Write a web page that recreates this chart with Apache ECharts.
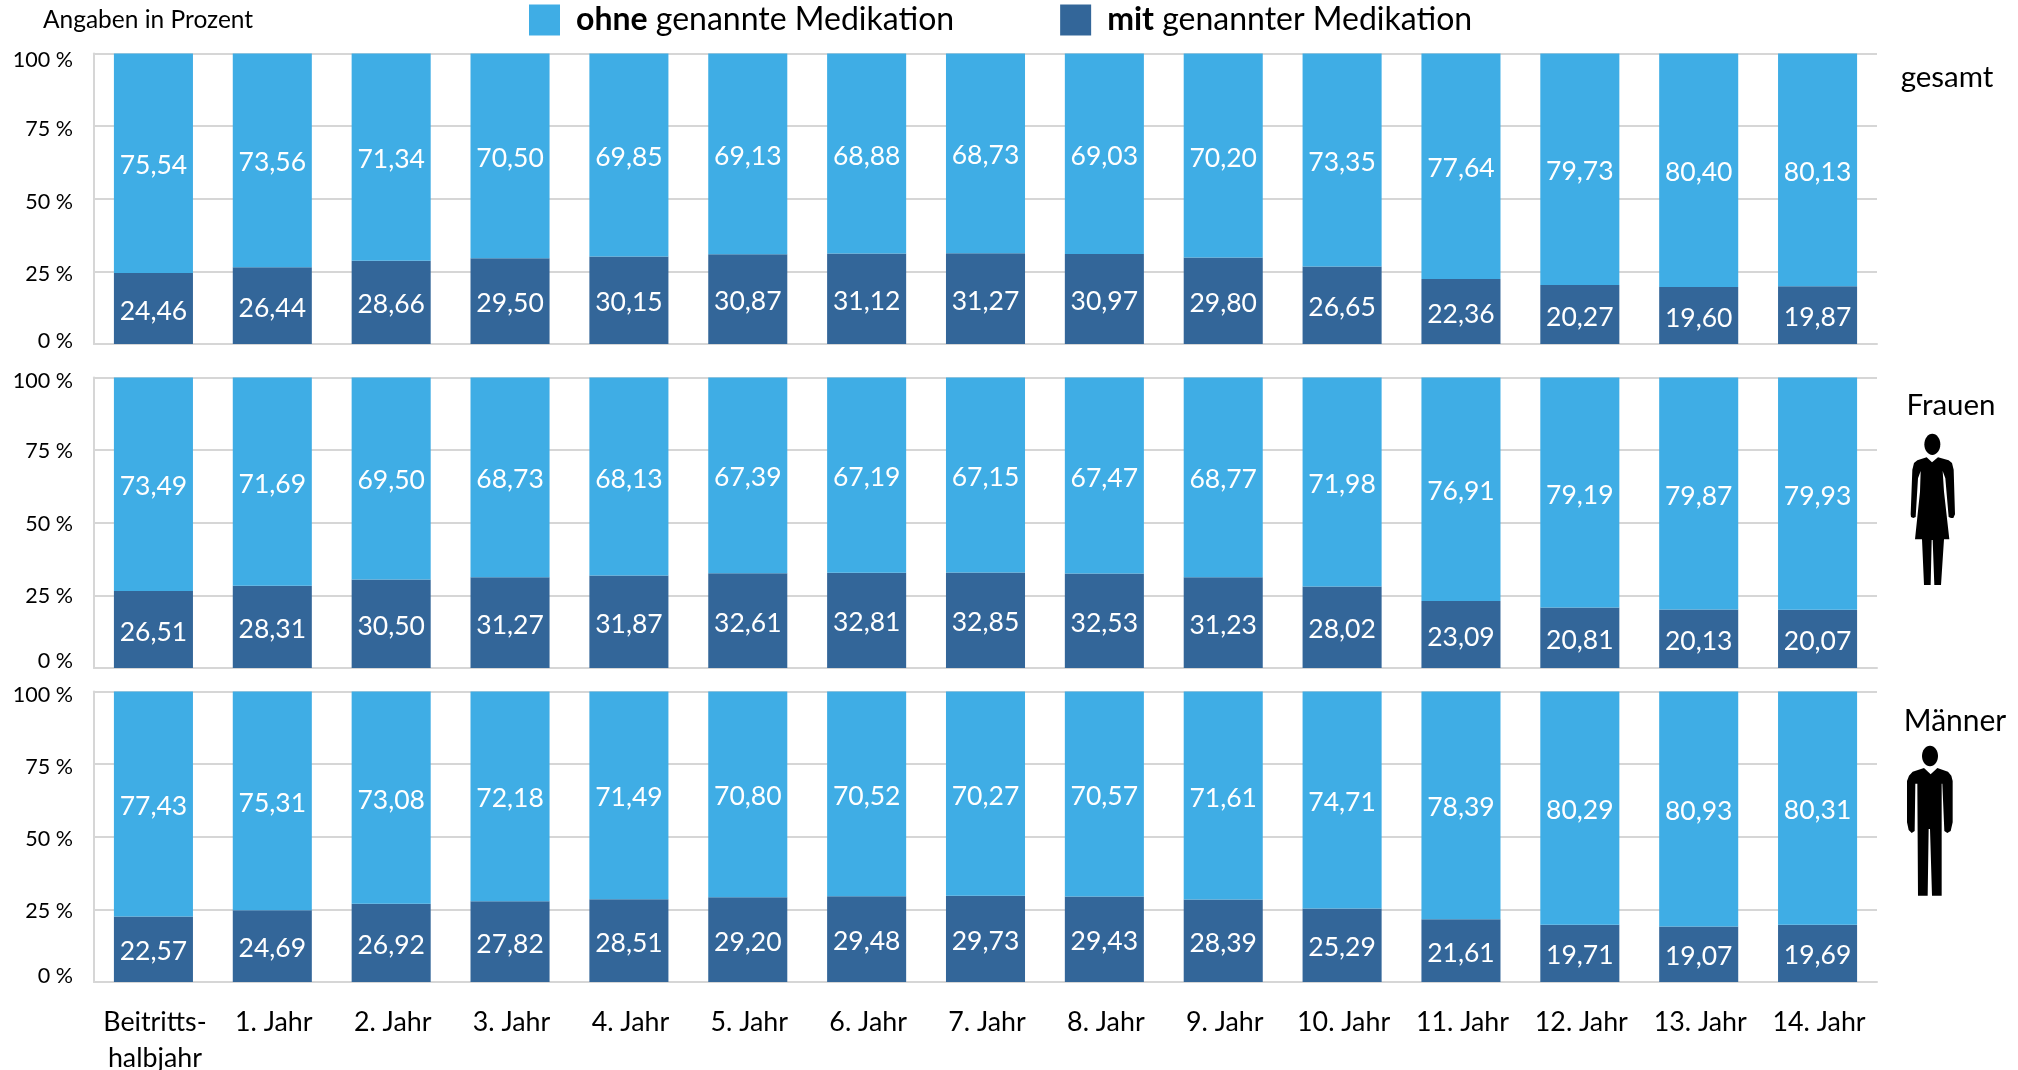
<!DOCTYPE html>
<html><head><meta charset="utf-8">
<style>html,body{margin:0;padding:0;background:#fff}#c{width:2018px;height:1070px}</style>
<script src="https://cdn.jsdelivr.net/npm/echarts@6/dist/echarts.min.js"></script>
</head><body><div id="c"></div>
<script>
const categories = ['Beitritts-\nhalbjahr','1. Jahr','2. Jahr','3. Jahr','4. Jahr','5. Jahr','6. Jahr','7. Jahr','8. Jahr','9. Jahr','10. Jahr','11. Jahr','12. Jahr','13. Jahr','14. Jahr'];
const gesamtOhne = [75.54,73.56,71.34,70.50,69.85,69.13,68.88,68.73,69.03,70.20,73.35,77.64,79.73,80.40,80.13];
const gesamtMit  = [24.46,26.44,28.66,29.50,30.15,30.87,31.12,31.27,30.97,29.80,26.65,22.36,20.27,19.60,19.87];
const frauenOhne = [73.49,71.69,69.50,68.73,68.13,67.39,67.19,67.15,67.47,68.77,71.98,76.91,79.19,79.87,79.93];
const frauenMit  = [26.51,28.31,30.50,31.27,31.87,32.61,32.81,32.85,32.53,31.23,28.02,23.09,20.81,20.13,20.07];
const maennerOhne = [77.43,75.31,73.08,72.18,71.49,70.80,70.52,70.27,70.57,71.61,74.71,78.39,80.29,80.93,80.31];
const maennerMit  = [22.57,24.69,26.92,27.82,28.51,29.20,29.48,29.73,29.43,28.39,25.29,21.61,19.71,19.07,19.69];
const nameOhne = 'ohne genannte Medikation';
const nameMit = 'mit genannter Medikation';

const LIGHT = '#3FADE5', DARK = '#336699', GRID = '#D6D6D6', FONT = 'Lato';
const panels = [
  {top:53.5, ohne:gesamtOhne, mit:gesamtMit, shift:{100:6.5,75:3,50:3,25:3,0:-3}},
  {top:377.5, ohne:frauenOhne, mit:frauenMit, shift:{100:4,75:1,50:1,25:1,0:-7}},
  {top:691.5, ohne:maennerOhne, mit:maennerMit, shift:{100:4,75:2.5,50:2,25:2,0:-6}}
];
const fmt = v => v.toFixed(2).replace('.', ',');
const grids=[],xAxes=[],yAxes=[],series=[];
panels.forEach((p,i)=>{
  grids.push({left:94,width:1783,top:p.top,height:290.5,outerBoundsMode:'none'});
  xAxes.push({type:'category',gridIndex:i,data:categories,
    axisLine:{lineStyle:{color:GRID,width:2}},axisTick:{show:false},
    axisLabel:{show:i===2,interval:0,margin:22,color:'#000',fontFamily:FONT,fontSize:26.8,lineHeight:36,padding:[0,0,0,3]}});
  const rich={};
  [100,75,50,25,0].forEach(v=>{const d=p.shift[v];
    rich['s'+v]={fontFamily:FONT,fontSize:21.5,color:'#000',padding:d>=0?[2*d,0,0,0]:[0,0,-2*d,0]};});
  yAxes.push({type:'value',gridIndex:i,min:0,max:100,interval:25,
    axisLine:{show:true,lineStyle:{color:GRID,width:2}},axisTick:{show:false},
    splitLine:{lineStyle:{color:GRID,width:2}},
    axisLabel:{margin:21,formatter:v=>`{s${v}|${v} %}`,rich}});
  const lab={show:true,position:'inside',offset:[0,2.5],color:'#fff',fontFamily:FONT,fontSize:26.5,formatter:o=>fmt(o.value)};
  series.push({name:nameMit,type:'bar',stack:'s'+i,xAxisIndex:i,yAxisIndex:i,data:p.mit,barWidth:'66.5%',itemStyle:{color:DARK},label:lab,animation:false});
  series.push({name:nameOhne,type:'bar',stack:'s'+i,xAxisIndex:i,yAxisIndex:i,data:p.ohne,barWidth:'66.5%',itemStyle:{color:LIGHT},label:lab,animation:false});
});
const womanBody=[[80,97],[96,112],[114,97],[146,106],[156,114],[161,134],[165,268],[160,279],[153,279],[146,276],[136,160],[128,138],[132,200],[148,343],[132,343],[123,480],[103,480],[98,345],[95,345],[92,480],[72,480],[66,343],[45,343],[60,200],[62,138],[54,160],[47,276],[40,279],[33,276],[32,268],[37,134],[42,114],[52,106]];
const manBody=[[72,99],[92,118],[112,99],[144,110],[154,122],[158,138],[158,262],[152,288],[142,294],[133,288],[127,146],[125,146],[125,482],[96,482],[90,282],[86,282],[83,482],[54,482],[52,146],[46,146],[44,288],[35,294],[26,285],[21,262],[21,138],[27,122],[38,110]];
const text=(t,x,y,size,align)=>({type:'text',x,y,style:{text:t,fill:'#000',font:`${size}px ${FONT}`,align:align||'center',verticalAlign:'middle'}});
const icon=(x,y,pts,cx,cy,rx,ry)=>({type:'group',x,y,scaleX:1/3,scaleY:1/3,children:[
  {type:'polygon',shape:{points:pts},style:{fill:'#000'}},
  {type:'ellipse',shape:{cx,cy,rx,ry},style:{fill:'#000'}}]});
const chart=echarts.init(document.getElementById('c'),null,{renderer:'canvas'});
chart.setOption({
  animation:false,backgroundColor:'#fff',
  grid:grids,xAxis:xAxes,yAxis:yAxes,series,
  legend:{data:[{name:nameOhne,itemStyle:{color:LIGHT}},{name:nameMit,itemStyle:{color:DARK}}],
    left:529,top:4,padding:0,itemWidth:31,itemHeight:31,itemGap:106,icon:'rect',selectedMode:false,
    textStyle:{fontFamily:FONT,fontSize:32,color:'#000',padding:[0,0,0,11],rich:{b:{fontFamily:FONT,fontSize:32,fontWeight:'bold',color:'#000'},n:{fontFamily:FONT,fontSize:32,color:'#000'}}},
    formatter:n=>{const k=n.indexOf(' ');return `{b|${n.slice(0,k)}}{n|${n.slice(k)}}`;}},
  graphic:[
    text('Angaben in Prozent',43,20,24.5,'left'),
    text('gesamt',1947,77,29.5),
    text('Frauen',1951,405,29.5),
    text('Männer',1955,721,30),
    icon(1900,425,womanBody,97,58,24,32),
    icon(1900,735,manBody,90,63,24,31)
  ]
});
</script></body></html>
